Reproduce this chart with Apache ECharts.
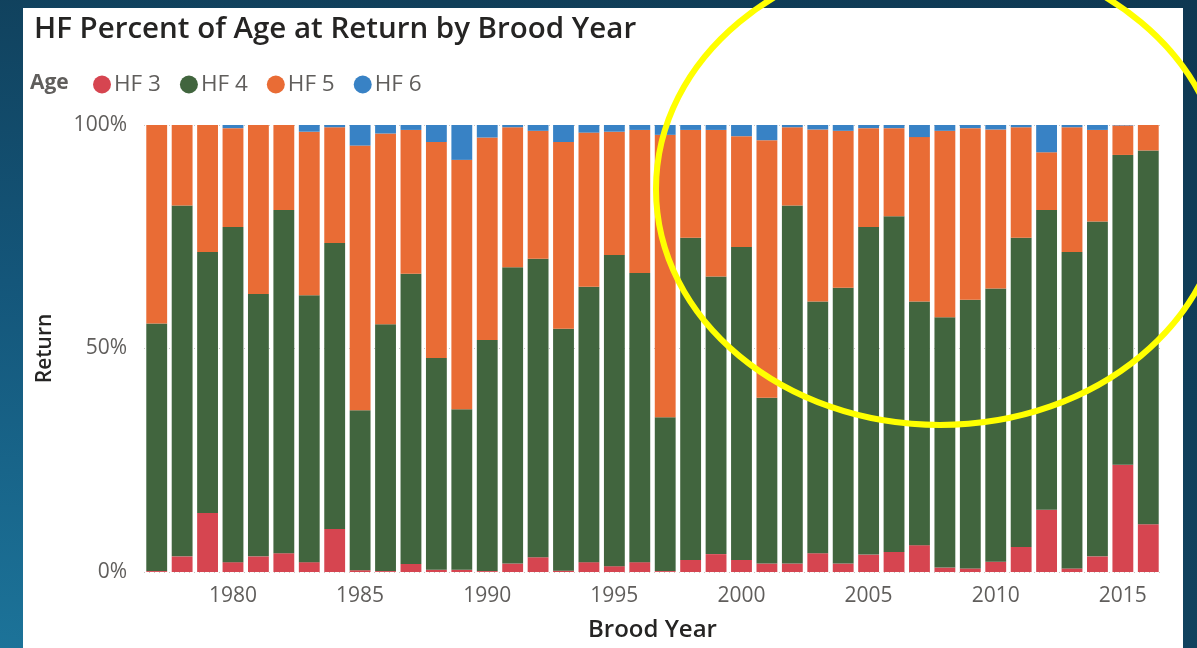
<!DOCTYPE html>
<html>
<head>
<meta charset="utf-8">
<script src="https://cdn.jsdelivr.net/npm/echarts@6/dist/echarts.min.js"></script>
<style>
  html, body { margin: 0; padding: 0; width: 1197px; height: 648px; overflow: hidden; }
  body { background: radial-gradient(ellipse at 0% 100%, #1c7399 0%, #14567a 40%, #103f5a 75%, #0e3852 100%); position: relative; }
  #panel { position: absolute; left: 23px; top: 8px; width: 1160px; height: 640px; background: #ffffff; }
  #chart { position: absolute; left: 0; top: 0; width: 1197px; height: 648px; }
</style>
</head>
<body>
<div id="panel"></div>
<div id="chart"></div>
<script>
const years = [1977,1978,1979,1980,1981,1982,1983,1984,1985,1986,
               1987,1988,1989,1990,1991,1992,1993,1994,1995,1996,
               1997,1998,1999,2000,2001,2002,2003,2004,2005,2006,
               2007,2008,2009,2010,2011,2012,2013,2014,2015,2016];
const hf3 = [0.2,3.5,13.2,2.2,3.5,4.2,2.2,9.6,0.4,0.2,
             1.8,0.5,0.5,0.2,1.9,3.3,0.3,2.2,1.3,2.2,
             0.2,2.7,4.0,2.7,1.9,1.9,4.2,1.9,3.9,4.5,
             6.0,1.0,0.8,2.3,5.6,13.9,0.8,3.5,24.0,10.7];
const hf4 = [55.4,78.5,58.4,75.0,58.7,76.8,59.7,64.0,35.8,55.2,
             64.9,47.4,35.9,51.7,66.3,66.8,54.1,61.6,69.6,64.7,
             34.4,72.1,62.1,70.0,37.1,80.1,56.3,61.7,73.3,75.1,
             54.5,56.0,60.1,61.1,69.2,67.1,70.8,74.9,69.3,83.6];
const hf5 = [44.4,18.0,28.4,22.1,37.8,19.0,36.6,25.9,59.2,42.7,
             32.2,48.3,55.8,45.3,31.3,28.6,41.8,34.5,27.6,32.0,
             63.2,24.1,32.8,24.8,57.6,17.5,38.5,35.1,22.1,19.7,
             36.8,41.7,38.4,35.6,24.7,12.9,27.9,20.5,6.6,5.7];
const hf6 = [0,0,0,0.7,0,0,1.5,0.5,4.6,1.9,
             1.1,3.8,7.8,2.8,0.5,1.3,3.8,1.7,1.5,1.1,
             2.2,1.1,1.1,2.5,3.4,0.5,1.0,1.3,0.7,0.7,
             2.7,1.3,0.7,1.0,0.5,6.1,0.5,1.1,0.1,0];
const seriesNames = ['HF 3','HF 4','HF 5','HF 6'];
const seriesData = [hf3, hf4, hf5, hf6];
const colors = ['#D64550','#41653E','#E96C35','#3882C5'];
const yTicks = [0, 50, 100];

const chart = echarts.init(document.getElementById('chart'), null, {renderer: 'canvas'});
const FONT = '"Open Sans", "Noto Sans", sans-serif';

chart.setOption({
  animation: false,
  backgroundColor: 'transparent',
  color: colors,
  title: {
    text: 'HF Percent of Age at Return by Brood Year',
    left: 29, top: 10,
    textStyle: { fontFamily: FONT, fontSize: 29.5, fontWeight: 600, color: '#252423' }
  },
  legend: {
    left: 88, top: 68,
    icon: 'circle', itemWidth: 18, itemHeight: 18, itemGap: 19,
    data: seriesNames,
    textStyle: { fontFamily: FONT, fontSize: 22.5, color: '#605E5C', padding: [0, 0, 0, -2] },
    selectedMode: false
  },
  graphic: [
    { type: 'text', left: 30, top: 73,
      style: { text: 'Age', font: 'bold 21px ' + FONT, fill: '#605E5C' } },
    { type: 'ellipse', z: 100,
      shape: { cx: 940, cy: 189, rx: 284, ry: 236 },
      style: { fill: 'none', stroke: '#FFFF00', lineWidth: 6 } }
  ],
  grid: { left: 144, right: 36, top: 125, bottom: 76, containLabel: false },
  xAxis: {
    type: 'category',
    data: years,
    name: 'Brood Year',
    nameLocation: 'middle',
    nameGap: 46,
    nameTextStyle: { fontFamily: FONT, fontSize: 24, fontWeight: 600, color: '#252423' },
    axisLine: { show: false },
    axisTick: { show: false },
    axisLabel: {
      interval: function (idx, val) { return Number(val) % 5 === 0; },
      margin: 14,
      fontFamily: FONT, fontSize: 21, color: '#605E5C'
    }
  },
  yAxis: {
    type: 'value',
    min: yTicks[0], max: yTicks[2], interval: yTicks[1],
    name: 'Return',
    nameLocation: 'middle',
    nameGap: 88,
    nameTextStyle: { fontFamily: FONT, fontSize: 21, fontWeight: 600, color: '#252423' },
    axisLabel: { formatter: '{value}%', margin: 17, fontFamily: FONT, fontSize: 21, color: '#605E5C' },
    axisLine: { show: false },
    axisTick: { show: false },
    splitLine: { show: true, lineStyle: { color: '#C8C6C4', type: [1, 4], width: 1 } }
  },
  series: seriesNames.map(function (name, i) {
    return {
      name: name,
      type: 'bar',
      stack: 'total',
      barCategoryGap: '18%',
      data: seriesData[i],
      itemStyle: { color: colors[i] },
      silent: true
    };
  })
});
</script>
</body>
</html>
